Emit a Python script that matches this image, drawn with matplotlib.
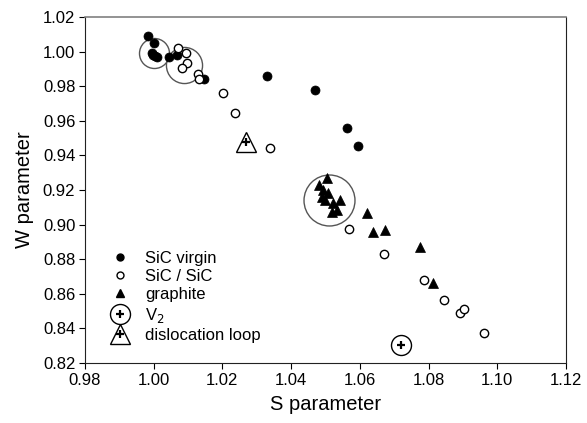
import matplotlib
matplotlib.use("Agg")
import matplotlib.pyplot as plt
from matplotlib.lines import Line2D
from matplotlib.legend_handler import HandlerTuple

plt.rcParams['font.family'] = ['Liberation Sans', 'DejaVu Sans']

# SiC virgin (filled circles)
virgin_s = [0.9983, 1.0002, 0.9994, 0.9998, 1.0004, 1.0009, 1.0045, 1.0067,
            1.0147, 1.0329, 1.0469, 1.0562, 1.0595]
virgin_w = [1.0090, 1.0051, 0.9990, 0.9982, 0.9976, 0.9971, 0.9967, 0.9980,
            0.9840, 0.9859, 0.9778, 0.9560, 0.9453]

# SiC / SiC (open circles)
sicsic_s = [1.0072, 1.0094, 1.0098, 1.0081, 1.0130, 1.0133, 1.0202, 1.0237,
            1.0338, 1.0569, 1.0671, 1.0787, 1.0846, 1.0891, 1.0903, 1.0962]
sicsic_w = [1.0019, 0.9994, 0.9936, 0.9903, 0.9871, 0.9840, 0.9762, 0.9647,
            0.9441, 0.8975, 0.8828, 0.8680, 0.8564, 0.8491, 0.8510, 0.8372]

# graphite (filled triangles)
graph_s = [1.0503, 1.0482, 1.0494, 1.0508, 1.0498, 1.0523, 1.0542, 1.0518,
           1.0533, 1.0489, 1.0620, 1.0637, 1.0673, 1.0775, 1.0812]
graph_w = [0.9268, 0.9229, 0.9200, 0.9181, 0.9142, 0.9123, 0.9142, 0.9075,
           0.9084, 0.9161, 0.9065, 0.8959, 0.8969, 0.8869, 0.8664]

# reference points
v2_s, v2_w = [1.0721], [0.8302]
loop_s, loop_w = [1.0270], [0.9479]

# grouping rings
ring_s = [1.0002, 1.0088, 1.0509]
ring_w = [0.9990, 0.9920, 0.9142]
ring_ms = [21.6, 26.0, 36.7]

xticks = [0.98, 1.00, 1.02, 1.04, 1.06, 1.08, 1.10, 1.12]
yticks = [0.82, 0.84, 0.86, 0.88, 0.90, 0.92, 0.94, 0.96, 0.98, 1.00, 1.02]

fig = plt.figure(figsize=(5.87, 4.23), dpi=100)
ax = fig.add_axes([0.1448, 0.1418, 0.8194, 0.818])

for s, w, ms in zip(ring_s, ring_w, ring_ms):
    ax.plot([s], [w], 'o', ms=ms, mfc='none', mec='#555555', mew=1.0)

ax.plot(virgin_s, virgin_w, 'o', ms=6.5, mfc='black', mec='black', mew=0.5, ls='none')
ax.plot(sicsic_s, sicsic_w, 'o', ms=6.0, mfc='white', mec='black', mew=1.0, ls='none')
ax.plot(graph_s, graph_w, '^', ms=7.0, mfc='black', mec='black', mew=0.5, ls='none')

ax.plot(v2_s, v2_w, 'o', ms=14.4, mfc='white', mec='black', mew=1.0)
ax.plot(v2_s, v2_w, '+', ms=6, mec='black', mew=1.6)
ax.plot(loop_s, loop_w, '^', ms=15, mfc='white', mec='black', mew=1.0)
ax.plot(loop_s, loop_w, '+', ms=6, mec='black', mew=1.6)

ax.set_xlim(0.98, 1.12)
ax.set_ylim(0.82, 1.02)
ax.set_xticks(xticks)
ax.set_yticks(yticks)
ax.set_xticklabels(['%.2f' % t for t in xticks])
ax.set_yticklabels(['%.2f' % t for t in yticks])
ax.tick_params(direction='out', length=4, width=0.8, labelsize=12, pad=3,
               top=False, right=False)
ax.set_xlabel('S parameter', fontsize=14.5, labelpad=5)
ax.set_ylabel('W parameter', fontsize=14.5, labelpad=6)

for side in ['left', 'bottom', 'right']:
    ax.spines[side].set_color('#222222')
    ax.spines[side].set_linewidth(0.8)
ax.spines['top'].set_color('#808080')
ax.spines['top'].set_linewidth(1.2)

h_virgin = Line2D([], [], marker='o', ms=5, mfc='black', mec='black', ls='none')
h_sicsic = Line2D([], [], marker='o', ms=5, mfc='white', mec='black', mew=1.0, ls='none')
h_graph = Line2D([], [], marker='^', ms=5.5, mfc='black', mec='black', ls='none')
h_v2 = (Line2D([], [], marker='o', ms=14.4, mfc='white', mec='black', mew=1.0, ls='none'),
        Line2D([], [], marker='+', ms=6, mec='black', mew=1.6, ls='none'))
h_loop = (Line2D([], [], marker='^', ms=15, mfc='white', mec='black', mew=1.0, ls='none'),
          Line2D([], [], marker='+', ms=6, mec='black', mew=1.6, ls='none'))

leg = ax.legend([h_virgin, h_sicsic, h_graph, h_v2, h_loop],
                ['SiC virgin', 'SiC / SiC', 'graphite', 'V$_2$', 'dislocation loop'],
                handler_map={tuple: HandlerTuple(ndivide=1, pad=0)},
                loc='lower left', bbox_to_anchor=(0.052, 0.058), frameon=False,
                fontsize=12, handlelength=1.2, handletextpad=0.9,
                labelspacing=0.2, borderpad=0, borderaxespad=0)

fig.savefig('out.png', dpi=100)
